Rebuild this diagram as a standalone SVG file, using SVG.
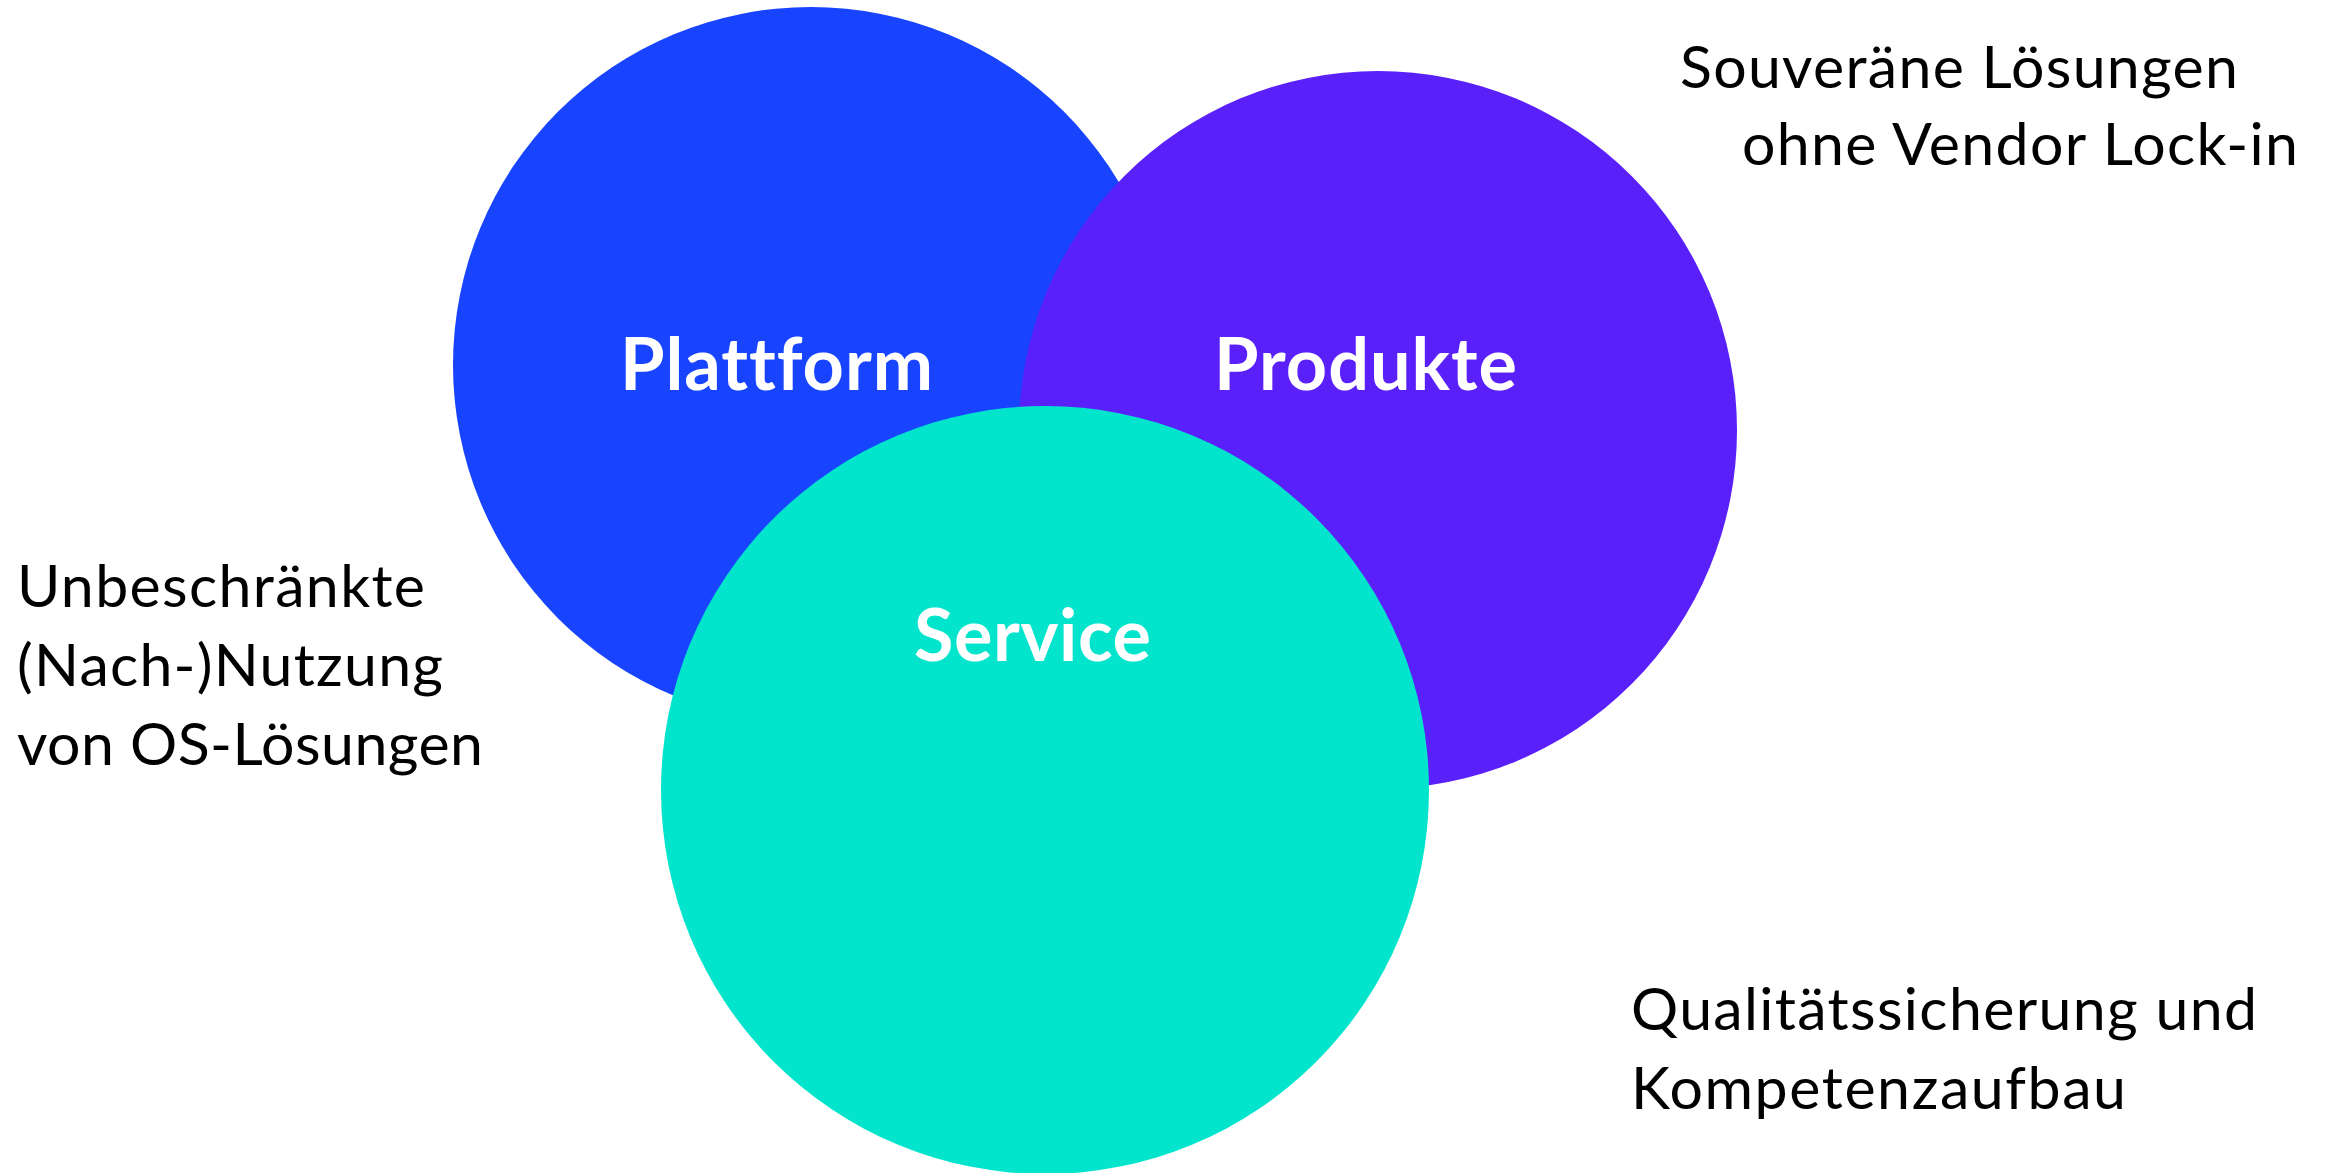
<svg xmlns="http://www.w3.org/2000/svg" width="2325" height="1173" viewBox="0 0 2325 1173">
<style>
.lbl{font-family:Lato,"Open Sans","Liberation Sans",sans-serif;font-weight:bold;font-size:72px;fill:#FFFFFF;font-variant-ligatures:none}
.note{font-family:Lato,"Open Sans","Liberation Sans",sans-serif;font-size:59px;fill:#000000;font-variant-ligatures:none}
</style>
<rect width="2325" height="1173" fill="#FFFFFF"/>
<g id="plattform">
<circle cx="811" cy="365" r="358" fill="#1844FF"/>
</g>
<g id="produkte">
<circle cx="1378" cy="430" r="359" fill="#5A20F9"/>
</g>
<g id="service">
<circle cx="1045" cy="790" r="384" fill="#02E5CC"/>
</g>
<g id="labels">
<text class="lbl" x="620" y="390" textLength="313">Plattform</text>
<text class="lbl" x="1214" y="390" textLength="303">Produkte</text>
<text class="lbl" x="914" y="661" textLength="237">Service</text>
</g>
<g id="connectors"></g>
<g id="notes">
<text class="note" x="1680" y="88" textLength="558">Souveräne Lösungen</text>
<text class="note" x="1742" y="165" textLength="556">ohne Vendor Lock-in</text>
<text class="note" x="17" y="607" textLength="408">Unbeschränkte</text>
<text class="note" x="17" y="686" textLength="426">(Nach-)Nutzung</text>
<text class="note" x="17" y="765" textLength="466">von OS-Lösungen</text>
<text class="note" x="1631" y="1030" textLength="626">Qualitätssicherung und</text>
<text class="note" x="1631" y="1109" textLength="495">Kompetenzaufbau</text>
</g>
</svg>
